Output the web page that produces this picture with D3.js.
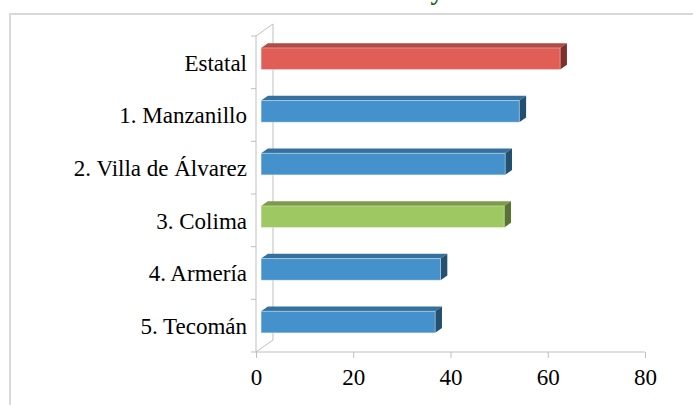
<!DOCTYPE html>
<html><head><meta charset="utf-8">
<script src="https://cdn.jsdelivr.net/npm/d3@7"></script>
<style>
html,body{margin:0;padding:0;background:#fff;}
svg{display:block;}
</style></head>
<body>
<svg id="chart" width="693" height="405"></svg>
<script>
const categories = ["Estatal","1. Manzanillo","2. Villa de Álvarez","3. Colima","4. Armería","5. Tecomán"];
const values = [61.5, 53.1, 50.2, 50.0, 36.9, 35.8];
const xTicks = [0, 20, 40, 60, 80];
const kinds = ["state","muni","muni","highlight","muni","muni"];

const palette = {
  state:     {front:"#e05e56", top:"#b24a45", side:"#7e302c"},
  muni:      {front:"#4491cb", top:"#35719f", side:"#23506f"},
  highlight: {front:"#9dc862", top:"#7c9c4b", side:"#5a7234"}
};

const svg = d3.select("#chart");
const font = "'Liberation Serif', 'DejaVu Serif', serif";

// outer frame
svg.append("rect").attr("x",10).attr("y",14).attr("width",720).attr("height",440)
  .attr("fill","none").attr("stroke","#d9d9d9").attr("stroke-width",2);

// title, mostly above the visible area (only its descender shows, as in the reference)
svg.append("text").attr("x",437).attr("y",0).attr("text-anchor","middle")
  .attr("font-family",font).attr("font-weight","bold").attr("font-size",26)
  .attr("fill","#125a12").text("y");

const x = d3.scaleLinear().domain([0,80]).range([256,645]);
const y = d3.scaleBand().domain(categories).range([36,352]).paddingInner(0.59).paddingOuter(0.295);

const D = {dx:17, dy:-12};
const fF = 0.3, fB = 0.7;
const axisCol = "#bfbfbf";

// 3D wall lines
const g = svg.append("g");
const y0 = 36, y1 = 352;
g.append("line").attr("x1",x(0)+D.dx).attr("x2",x(0)+D.dx).attr("y1",y0+D.dy).attr("y2",y1+D.dy).attr("stroke",axisCol);
g.append("line").attr("x1",x(0)).attr("x2",x(0)+D.dx).attr("y1",y0).attr("y2",y0+D.dy).attr("stroke",axisCol);
g.append("line").attr("x1",x(0)).attr("x2",x(0)+D.dx).attr("y1",y1).attr("y2",y1+D.dy).attr("stroke",axisCol);

// x axis
const xAxis = d3.axisBottom(x).tickValues(xTicks).tickSize(6).tickPadding(10).tickFormat(d3.format("d"));
const xg = svg.append("g").attr("transform",`translate(0,${y1})`).call(xAxis);
xg.select(".domain").attr("stroke",axisCol).attr("d",`M${x(0)},0H${x(80)}`);
xg.selectAll(".tick line").attr("stroke",axisCol);
xg.selectAll(".tick text").attr("font-family",font).attr("font-size",23).attr("fill","#000").attr("dy","0.75em");

// y axis
const yAxis = d3.axisLeft(y).tickSize(0).tickPadding(9);
const yg = svg.append("g").attr("transform",`translate(${x(0)},0)`).call(yAxis);
yg.select(".domain").attr("stroke",axisCol).attr("d",`M0,${y0}V${y1}`);
yg.selectAll(".tick text").attr("font-family",font).attr("font-size",23).attr("fill","#000").attr("dy","0.36em");
const bounds = d3.range(categories.length+1).map(i => y0 + i*y.step());
yg.selectAll(".bt").data(bounds).enter().append("line")
  .attr("x1",-5).attr("x2",0).attr("y1",d=>d).attr("y2",d=>d).attr("stroke",axisCol);

// bars
const bars = svg.append("g");
categories.forEach((c,i) => {
  const col = palette[kinds[i]];
  const ox = D.dx*fF, oy = D.dy*fF;
  const ddx = D.dx*(fB-fF), ddy = D.dy*(fB-fF);
  const xl = x(0)+ox, xr = x(values[i])+ox;
  const yt = y(c)+oy, yb = yt + y.bandwidth();
  bars.append("path").attr("fill",col.top)
    .attr("d",`M${xl},${yt}L${xr},${yt}L${xr+ddx},${yt+ddy}L${xl+ddx},${yt+ddy}Z`);
  bars.append("path").attr("fill",col.side)
    .attr("d",`M${xr},${yt}L${xr+ddx},${yt+ddy}L${xr+ddx},${yb+ddy}L${xr},${yb}Z`);
  bars.append("rect").attr("x",xl).attr("y",yt).attr("width",xr-xl).attr("height",yb-yt)
    .attr("fill",col.front).attr("stroke","rgba(255,255,255,0.35)").attr("stroke-width",1);
});
</script>
</body></html>
